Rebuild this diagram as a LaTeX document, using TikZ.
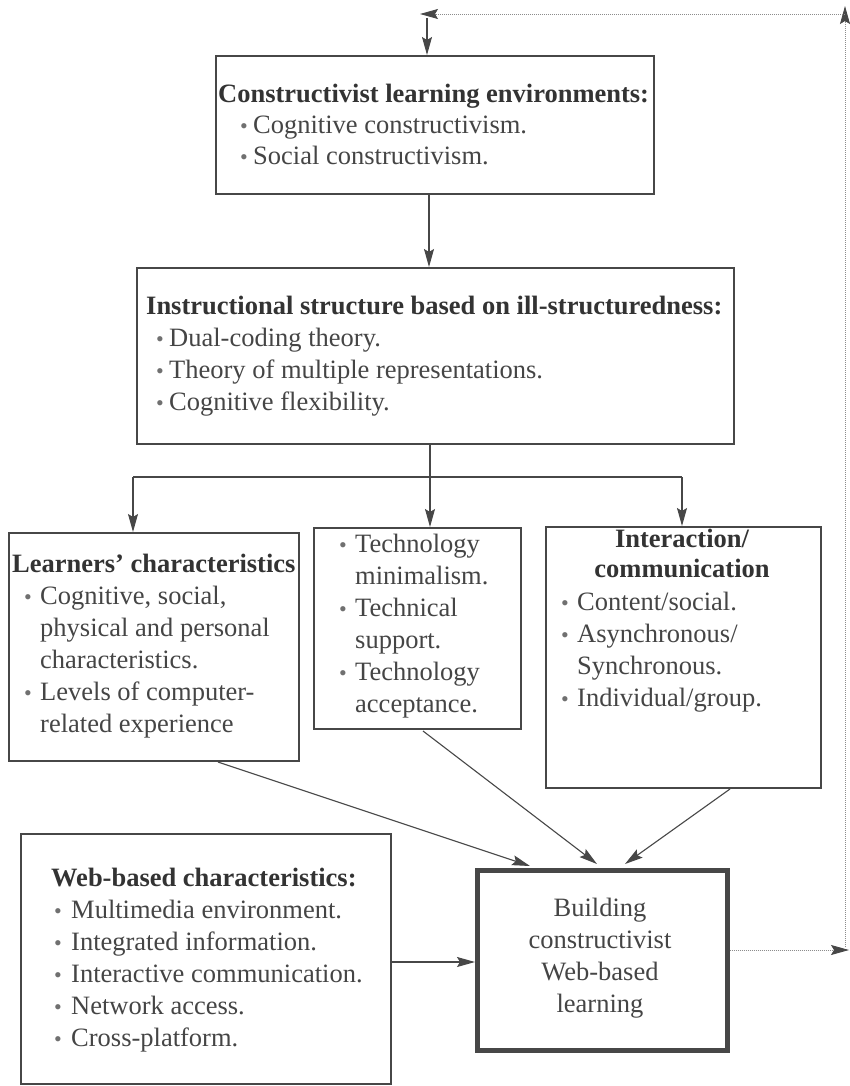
\documentclass[tikz,border=0pt]{standalone}
\usepackage{fontspec}
\setmainfont{Liberation Serif}
\usetikzlibrary{arrows.meta}
\definecolor{ink}{HTML}{333333}
\definecolor{txt}{HTML}{454545}
\definecolor{bulc}{HTML}{707070}
\definecolor{edge}{HTML}{474747}
\definecolor{dotc}{HTML}{8C8C8C}
\newcommand\bul[1]{\makebox[#1][l]{\textcolor{bulc}{\fontsize{22}{22}\selectfont\textbullet}}}
\newcommand\txtbox[3]{\parbox[t]{#1}{\fontsize{26.5}{#2}\selectfont\leavevmode\color{txt}#3}}
\newcommand\ctxtbox[3]{\parbox[t]{#1}{\centering\fontsize{26.5}{#2}\selectfont\leavevmode\color{txt}#3}}
\newcommand\ttl[1]{\textbf{\color{ink}#1}}
\begin{document}
\begin{tikzpicture}[x=1pt,y=-1pt,
  box/.style={draw=edge,line width=1.8pt,inner sep=0pt,anchor=north west},
  lbl/.style={inner sep=0pt,anchor=base west},
  clbl/.style={inner sep=0pt,anchor=base},
  conn/.style={draw=edge,line width=1.1pt},
  arr/.style={conn,-{Stealth[length=18pt,width=10pt,inset=3pt]}},
  dotl/.style={draw=dotc,line width=0.9pt,dash pattern=on 1pt off 1pt,-{Stealth[length=18pt,width=10pt,inset=3pt,color=edge,fill=edge]}}]
\fill[white] (0,0) rectangle (850,1086);
\useasboundingbox (0,0) rectangle (850,1086);

% boxes
\node[box,minimum width=438pt,minimum height=138pt] (top) at (215,55) {};
\node[box,minimum width=597pt,minimum height=176pt] (instr) at (136,267) {};
\node[box,minimum width=290pt,minimum height=228pt] (left) at (8,532) {};
\node[box,minimum width=207pt,minimum height=201pt] (mid) at (313,527) {};
\node[box,minimum width=275pt,minimum height=261pt] (right) at (545,526) {};
\node[box,minimum width=370pt,minimum height=250pt] (web) at (20,833) {};
\node[box,line width=4.5pt,minimum width=250pt,minimum height=180pt] (build) at (475,868) {};

% texts
\node[lbl] (topT) at (218,103) {\txtbox{600pt}{31pt}{\ttl{Constructivist learning environments:}\\
 \hspace*{22pt}\bul{13pt}Cognitive constructivism.\\
 \hspace*{22pt}\bul{13pt}Social constructivism.}};

\node[lbl] (instrT) at (146,314) {\txtbox{700pt}{32pt}{\ttl{Instructional structure based on ill-structuredness:}\\
 \hspace*{10pt}\bul{13pt}Dual-coding theory.\\
 \hspace*{10pt}\bul{13pt}Theory of multiple representations.\\
 \hspace*{10pt}\bul{13pt}Cognitive flexibility.}};

\node[lbl] (leftT) at (12,572) {\txtbox{400pt}{32pt}{\ttl{Learners’ characteristics}\\
 \hspace*{12pt}\bul{16pt}Cognitive, social,\\
 \hspace*{28pt}physical and personal\\
 \hspace*{28pt}characteristics.\\
 \hspace*{12pt}\bul{16pt}Levels of computer-\\
 \hspace*{28pt}related experience}};

\node[lbl] (midT) at (339,552) {\txtbox{300pt}{32pt}{\bul{16pt}Technology\\
 \hspace*{16pt}minimalism.\\
 \bul{16pt}Technical\\
 \hspace*{16pt}support.\\
 \bul{16pt}Technology\\
 \hspace*{16pt}acceptance.}};

\node[clbl] (rightH) at (682,547) {\ctxtbox{300pt}{30pt}{\ttl{Interaction/}\\ \ttl{communication}}};
\node[lbl] (rightT) at (561,610) {\txtbox{300pt}{32pt}{\bul{16pt}Content/social.\\
 \bul{16pt}Asynchronous/\\
 \hspace*{16pt}Synchronous.\\
 \bul{16pt}Individual/group.}};

\node[lbl] (webT) at (51,886) {\txtbox{500pt}{32pt}{\ttl{Web-based characteristics:}\\
 \hspace*{3pt}\bul{17pt}Multimedia environment.\\
 \hspace*{3pt}\bul{17pt}Integrated information.\\
 \hspace*{3pt}\bul{17pt}Interactive communication.\\
 \hspace*{3pt}\bul{17pt}Network access.\\
 \hspace*{3pt}\bul{17pt}Cross-platform.}};

\node[clbl] (buildT) at (600,916) {\ctxtbox{240pt}{32pt}{Building\\ constructivist\\ Web-based\\ learning}};

% connectors
\coordinate (loopV) at (427,18);
\draw[arr] (loopV) -- (loopV |- top.north);
\coordinate (axis) at (429,0);
\draw[arr] (axis |- top.south) -- (axis |- instr.north);
\coordinate (split) at (430,477);
\draw[arr] (split |- instr.south) -- (split |- mid.north);
\coordinate (hl) at (133,477);
\coordinate (hr) at (682,477);
\draw[conn] (hl) -- (hr);
\draw[arr] (hl) -- (hl |- left.north);
\draw[arr] (hr) -- (hr |- right.north);

\coordinate (la) at (218,762);
\coordinate (lt) at (530,866);
\draw[arr] (la) -- (lt);
\coordinate (ma) at (423,731);
\coordinate (mt) at (597,864);
\draw[arr] (ma) -- (mt);
\coordinate (ra) at (730,789);
\coordinate (rt) at (625,864);
\draw[arr] (ra) -- (rt);

\coordinate (wa) at (390,962);
\draw[arr] (wa) -- (wa -| build.west);

% feedback loop (dotted)
\coordinate (rb) at (849,950);
\coordinate (rtop) at (845,6);
\coordinate (tr) at (845,14);
\coordinate (tl) at (420,14);
\coordinate (rbot) at (845,947);
\draw[dotl] (build.east |- rb) -- (rb);
\draw[dotl] (rbot) -- (rtop);
\draw[dotl] (tr) -- (tl);
\end{tikzpicture}
\end{document}
